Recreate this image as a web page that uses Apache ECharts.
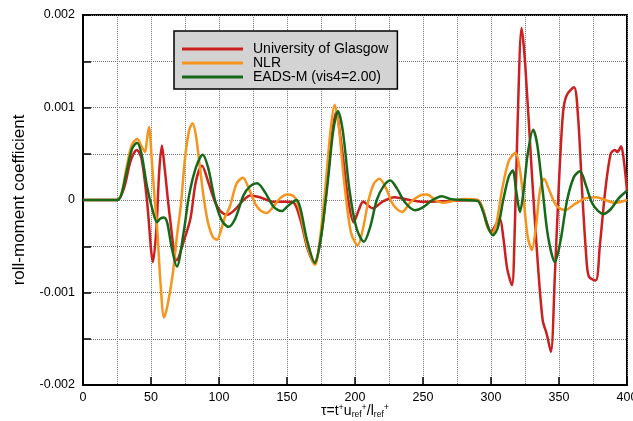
<!DOCTYPE html>
<html>
<head>
<meta charset="utf-8">
<script src="https://cdn.jsdelivr.net/npm/echarts@6/dist/echarts.min.js"></script>
<style>
  html, body { margin: 0; padding: 0; background: #fff; }
  #chart { width: 633px; height: 421px; }
</style>
</head>
<body>
<div id="chart"></div>
<script>
// roll-moment coefficient, values in units of 1e-3, x = tau
var seriesNames = ['University of Glasgow', 'NLR', 'EADS-M (vis4=2.00)'];
var seriesColors = ['#cc1f1f', '#f7941d', '#17691a'];

var glasgow = [
    [0,0],[25,0],[30,0.12],[35,0.42],[39.5,0.54],[43,0.45],[47,0],[51.5,-0.67],[54,-0.3],[56,0.3],
    [58,0.59],[60,0.35],[64,-0.2],[69,-0.65],[74,-0.45],[79,-0.2],[83,0.2],[87.5,0.37],[92,0.2],
    [97,-0.02],[101,-0.12],[106,-0.16],[112,-0.1],[118,0],[123,0.05],[130,0.03],[140,-0.02],
    [150,-0.02],[155,-0.03],[160,-0.22],[165,-0.52],[170,-0.68],[175,-0.4],[180,0.25],[183,0.7],
    [186,0.95],[190,0.6],[195,0],[199,-0.24],[203,-0.1],[206,-0.02],[213,-0.09],[220,-0.02],
    [229,0.03],[240,0],[250,-0.02],[270,-0.01],[290,0],[294,-0.1],[297,-0.25],[300,-0.35],
    [303,-0.28],[306.5,-0.2],[309,-0.4],[312,-0.75],[315.4,-0.92],[317.5,-0.3],[319.5,0.8],
    [322.5,1.86],[325,1.5],[330,0.3],[334,-0.6],[338,-1.3],[341,-1.45],[344,-1.64],[347,-0.8],
    [350,0.2],[353,0.95],[355.6,1.13],[361,1.22],[364,0.9],[367,0.1],[370,-0.6],[372,-0.83],
    [377,-0.87],[380,-0.5],[384,0.1],[388,0.5],[391,0.54],[393,0.52],[395.6,0.58],[397.5,0.45],
    [400,0.1]
];

var nlr = [
    [0,0],[25,0],[28,0.05],[32,0.35],[36,0.6],[40,0.66],[43,0.58],[45.6,0.52],[47,0.65],[48.5,0.79],
    [50.5,0.45],[52.5,0.05],[54.5,-0.3],[57,-0.9],[59.6,-1.27],[62,-1.15],[66,-0.8],[69,-0.4],
    [72,-0.05],[75,0.45],[78,0.75],[80.5,0.83],[83,0.7],[86,0.35],[89,0],[92,-0.25],[95.5,-0.4],
    [98.5,-0.43],[102,-0.3],[104,-0.2],[108,-0.07],[113,0.18],[117.6,0.24],[122,0.12],[127,-0.05],
    [131,-0.12],[135,-0.14],[140,-0.07],[145,0.02],[150,0.06],[154,0.05],[157,0],[160,-0.15],
    [165,-0.5],[170.6,-0.7],[174,-0.45],[178,0.1],[182,0.75],[185,1.03],[188,0.8],[192,0.2],
    [197,-0.35],[202,-0.49],[206,-0.3],[210,0],[214,0.18],[218,0.23],[223,0.12],[228,-0.05],
    [234.6,-0.13],[241,-0.02],[248,0.05],[253,0.06],[259,0],[265,-0.03],[272,-0.01],[282,0.01],
    [290,0],[294,-0.1],[297,-0.28],[300.7,-0.36],[304,-0.25],[308,0.1],[313,0.42],[318,0.51],
    [321,0.35],[324,0],[327,-0.4],[330,-0.54],[333,-0.3],[336,0.1],[339,0.23],[343,0.1],
    [348,-0.06],[354.4,-0.11],[362,-0.04],[370,0.02],[377.7,0.03],[384,0],[391,-0.03],[400,0]
];

var eads = [
    [0,0],[25,0],[28,0.05],[32,0.3],[36,0.55],[39.7,0.62],[43,0.5],[47,0.15],[51,-0.1],
    [54.4,-0.24],[57,-0.2],[59.6,-0.19],[62,-0.25],[65,-0.5],[69,-0.72],[74,-0.35],[78,0.05],
    [83,0.35],[88,0.49],[92,0.35],[97,0],[102,-0.22],[107,-0.29],[112,-0.2],[118,0.05],[123,0.15],
    [128,0.18],[134,0.08],[140,-0.07],[146,-0.12],[151,-0.06],[157,0],[160,-0.1],[165,-0.45],
    [170.5,-0.68],[175,-0.4],[180,0.2],[184,0.75],[187.5,0.96],[191,0.75],[196,0.1],[201,-0.3],
    [206.5,-0.45],[211,-0.3],[216,0],[221,0.15],[226,0.21],[231,0.12],[237,-0.03],[244,-0.11],
    [250,-0.08],[257,0],[264,0.04],[270,0.01],[280,0],[290,-0.01],[294,-0.12],[298,-0.3],
    [301.5,-0.38],[305,-0.3],[309,0],[313,0.25],[316,0.32],[318.5,0.1],[321.3,-0.13],[324,0.1],
    [327,0.5],[331,0.76],[334,0.6],[338,0.1],[342,-0.4],[347,-0.67],[351,-0.45],[356,0],
    [361,0.25],[365.4,0.31],[370,0.15],[375,-0.05],[382.6,-0.15],[388,-0.1],[394,0.02],[400,0.1]
];

var allData = [glasgow, nlr, eads];
var font = "'Liberation Sans', Arial, sans-serif";

var chart = echarts.init(document.getElementById('chart'));

var option = {
    animation: false,
    backgroundColor: '#fff',
    grid: {
        left: 83, right: 6, top: 15, bottom: 36,
        outerBoundsMode: 'none',
        containLabel: false,
        show: true,
        borderColor: '#000',
        borderWidth: 2
    },
    legend: {
        orient: 'vertical',
        left: 174, top: 31,
        padding: [11, 9, 5, 8],
        itemGap: 0,
        itemWidth: 61,
        itemHeight: 3,
        icon: 'rect',
        backgroundColor: '#d3d3d3',
        borderColor: '#000',
        borderWidth: 1.5,
        textStyle: { fontFamily: font, fontSize: 14, lineHeight: 14, color: '#000', padding: [0, 0, 0, 5] },
        data: seriesNames
    },
    xAxis: {
        type: 'value',
        min: 0, max: 400, interval: 50,
        name: '{b|τ=t}{sup|+}{b|u}{sub|ref}{sup|+}{b|/l}{sub|ref}{sup|+}',
        nameLocation: 'middle',
        nameGap: 18,
        nameMoveOverlap: false,
        nameTextStyle: {
            rich: {
                b: { fontFamily: font, fontSize: 14, color: '#000', verticalAlign: 'middle' },
                sup: { fontFamily: font, fontSize: 9, color: '#000', verticalAlign: 'middle', padding: [0, 0, 8, 0] },
                sub: { fontFamily: font, fontSize: 8.5, color: '#000', verticalAlign: 'middle', padding: [7, 0, 0, 0] }
            }
        },
        axisLine: { onZero: false, lineStyle: { color: '#000', width: 2 } },
        axisTick: { inside: true, length: 8, lineStyle: { color: '#000', width: 1.5 } },
        minorTick: { show: false, splitNumber: 2 },
        axisLabel: { fontFamily: font, fontSize: 12.5, color: '#000', margin: 6 },
        splitLine: { show: true, lineStyle: { color: '#777', type: 'dotted', width: 1 } },
        minorSplitLine: { show: true, lineStyle: { color: '#777', type: 'dotted', width: 1 } }
    },
    yAxis: {
        type: 'value',
        min: -2, max: 2, interval: 0.5,
        name: 'roll-moment coefficient',
        nameLocation: 'middle',
        nameGap: 55,
        nameTextStyle: { fontFamily: font, fontSize: 17, color: '#000' },
        axisLine: { show: true, onZero: false, lineStyle: { color: '#000', width: 2 } },
        axisTick: { inside: true, length: 8, lineStyle: { color: '#000', width: 1.5 } },
        axisLabel: {
            fontFamily: font, fontSize: 12.5, color: '#000', margin: 8,
            formatter: function (v) {
                if (Math.abs(v - Math.round(v)) > 1e-9) return '';
                if (v === 0) return '0';
                return (v / 1000).toFixed(3);
            }
        },
        splitLine: { show: true, lineStyle: { color: '#777', type: 'dotted', width: 1 } }
    },
    series: allData.map(function (d, i) {
        return {
            name: seriesNames[i],
            type: 'line',
            data: d,
            showSymbol: false,
            smooth: 0.3,
            color: seriesColors[i],
            lineStyle: { color: seriesColors[i], width: 2.5 },
            z: 2 + i
        };
    })
};

chart.setOption(option);
</script>
</body>
</html>
